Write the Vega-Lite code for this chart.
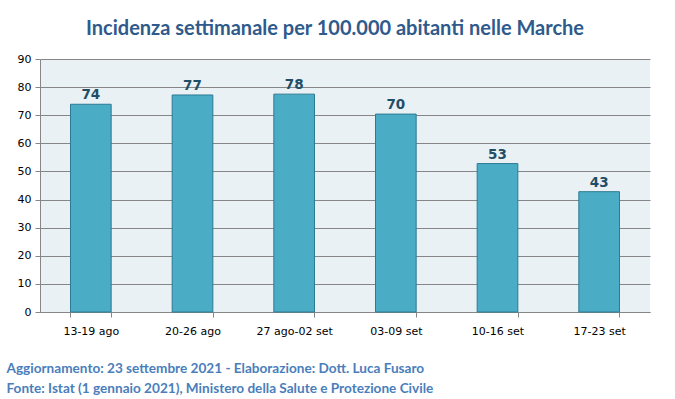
{
  "$schema": "https://vega.github.io/schema/vega-lite/v6.json",
  "autosize": "none",
  "width": 610,
  "height": 253,
  "padding": {"left": 40, "top": 59, "right": 25, "bottom": 87},
  "background": "white",
  "title": {
    "text": "Incidenza settimanale per 100.000 abitanti nelle Marche",
    "font": "Lato",
    "fontSize": 20,
    "fontWeight": "bold",
    "color": "#2F5A8C",
    "anchor": "middle",
    "dx": -10,
    "offset": 14
  },
  "data": {
    "values": [
      {"settimana": "13-19 ago", "valore": 73.9},
      {"settimana": "20-26 ago", "valore": 77.2},
      {"settimana": "27 ago-02 set", "valore": 77.5},
      {"settimana": "03-09 set", "valore": 70.4},
      {"settimana": "10-16 set", "valore": 52.8},
      {"settimana": "17-23 set", "valore": 42.8}
    ]
  },
  "config": {
    "view": {"stroke": null, "fill": "#E9F1F5"},
    "axis": {
      "labelFont": "DejaVu Sans",
      "labelFontSize": 11,
      "labelColor": "#000000",
      "domainColor": "#868686",
      "tickColor": "#868686",
      "gridColor": "#868686"
    }
  },
  "encoding": {
    "x": {
      "field": "settimana",
      "type": "nominal",
      "sort": null,
      "scale": {"paddingInner": 0.6, "paddingOuter": 0.3},
      "axis": {
        "labelAngle": 0,
        "labelPadding": 8,
        "tickSize": 5,
        "tickBand": "extent",
        "title": [
          "Aggiornamento: 23 settembre 2021 - Elaborazione: Dott. Luca Fusaro",
          "Fonte: Istat (1 gennaio 2021), Ministero della Salute e Protezione Civile"
        ],
        "titleAnchor": "start",
        "titleAlign": "left",
        "titleX": -34,
        "titleY": 60,
        "titleBaseline": "alphabetic",
        "titleLineHeight": 20,
        "titleFont": "Lato",
        "titleFontSize": 13.6,
        "titleFontWeight": "bold",
        "titleColor": "#4A7EBB"
      }
    },
    "y": {
      "field": "valore",
      "type": "quantitative",
      "scale": {"domain": [0, 90], "nice": false},
      "axis": {
        "values": [0, 10, 20, 30, 40, 50, 60, 70, 80, 90],
        "title": null,
        "tickSize": 5,
        "labelPadding": 4,
        "grid": true
      }
    }
  },
  "layer": [
    {
      "mark": {"type": "bar", "fill": "#4BACC6", "stroke": "#2C7A93", "strokeWidth": 1}
    },
    {
      "mark": {
        "type": "text",
        "baseline": "bottom",
        "dy": -2,
        "font": "DejaVu Sans",
        "fontSize": 13.5,
        "fontWeight": "bold",
        "color": "#1F4E66"
      },
      "encoding": {"text": {"field": "valore", "format": ".0f"}}
    }
  ]
}
